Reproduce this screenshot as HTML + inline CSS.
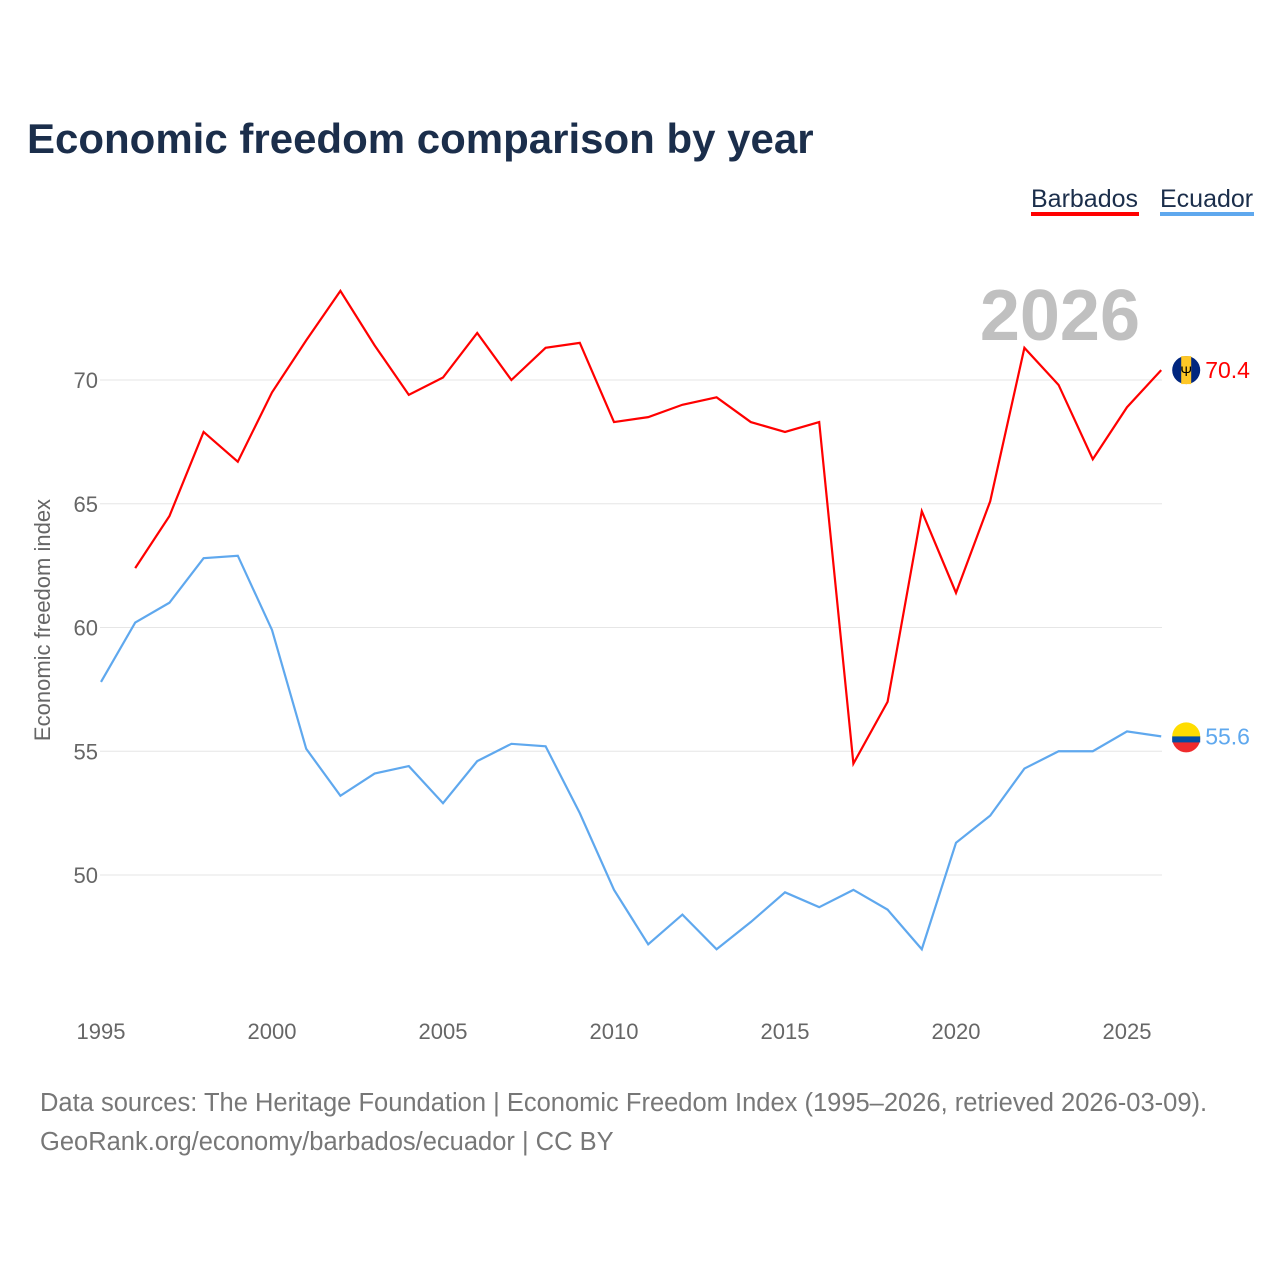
<!DOCTYPE html>
<html><head><meta charset="utf-8"><style>
body{margin:0;background:#fff;font-family:"Liberation Sans",sans-serif;}
</style></head><body>
<svg id="chart" width="1280" height="1280" xmlns="http://www.w3.org/2000/svg" style="font-family:'Liberation Sans',sans-serif">
<rect width="1280" height="1280" fill="#fff"/>
<text x="27" y="153" font-size="42" font-weight="bold" fill="#1b2e4b">Economic freedom comparison by year</text>
<g><text x="1031" y="207" font-size="25" fill="#1b2e4b">Barbados</text><rect x="1031" y="212" width="108" height="4" fill="#ff0000"/></g>
<g><text x="1160" y="207" font-size="25" fill="#1b2e4b">Ecuador</text><rect x="1160" y="212" width="94" height="4" fill="#5fa8ee"/></g>
<text x="1140" y="340" font-size="72" font-weight="bold" fill="#c0c0c0" text-anchor="end">2026</text>
<text transform="translate(50,620) rotate(-90)" font-size="22" fill="#666" text-anchor="middle">Economic freedom index</text>
<g id="grid"></g><g id="xt"></g><g id="lines"></g>
<g font-size="25.5" fill="#777">
<text x="40" y="1111">Data sources: The Heritage Foundation | Economic Freedom Index (1995–2026, retrieved 2026-03-09).</text>
<text x="40" y="1150">GeoRank.org/economy/barbados/ecuador | CC BY</text></g>
</svg>
<script>
const yTicks=[50,55,60,65,70];
const xTicks=[1995,2000,2005,2010,2015,2020,2025];
const barbYears=[1996,1997,1998,1999,2000,2001,2002,2003,2004,2005,2006,2007,2008,2009,2010,2011,2012,2013,2014,2015,2016,2017,2018,2019,2020,2021,2022,2023,2024,2025,2026];
const barbados=[62.4,64.5,67.9,66.7,69.5,71.6,73.6,71.4,69.4,70.1,71.9,70.0,71.3,71.5,68.3,68.5,69.0,69.3,68.3,67.9,68.3,54.5,57.0,64.7,61.4,65.1,71.3,69.8,66.8,68.9,70.4];
const ecuYears=[1995,1996,1997,1998,1999,2000,2001,2002,2003,2004,2005,2006,2007,2008,2009,2010,2011,2012,2013,2014,2015,2016,2017,2018,2019,2020,2021,2022,2023,2024,2025,2026];
const ecuador=[57.8,60.2,61.0,62.8,62.9,59.9,55.1,53.2,54.1,54.4,52.9,54.6,55.3,55.2,52.5,49.4,47.2,48.4,47.0,48.1,49.3,48.7,49.4,48.6,47.0,51.3,52.4,54.3,55.0,55.0,55.8,55.6];
const NS='http://www.w3.org/2000/svg';
const x=y=>101+(y-1995)*34.2;
const yv=v=>380+(70-v)*24.75;
function mk(t,a,p){const e=document.createElementNS(NS,t);for(const k in a)e.setAttribute(k,a[k]);p.appendChild(e);return e;}
const grid=document.getElementById('grid');
yTicks.forEach(t=>{
 const l=mk('line',{x1:100,x2:1162,y1:yv(t),y2:yv(t),stroke:'#e6e6e6','stroke-width':1},grid);
 
 
 const tx=mk('text',{x:98,y:yv(t)+8,'font-size':22,fill:'#666','text-anchor':'end'},grid);tx.textContent=t;
 
 
});
const xt=document.getElementById('xt');
xTicks.forEach(t=>{
 const tx=mk('text',{x:x(t),y:1039,'font-size':22,fill:'#666','text-anchor':'middle'},xt);tx.textContent=t;
 
 
});
const lines=document.getElementById('lines');
function series(ys,vs,col,name,label,flag){
 const p=mk('polyline',{points:ys.map((y,i)=>x(y)+','+yv(vs[i])).join(' '),fill:'none',stroke:col,'stroke-width':2.2},lines);
 
 
 const lx=x(ys[ys.length-1]),ly=yv(vs[vs.length-1]);
 const g=mk('g',{},lines);
 
 
 const cx=lx+25;
 if(flag==='bb'){
  mk('circle',{cx:cx,cy:ly,r:14,fill:'#00267f'},g);
  mk('rect',{x:cx-5,y:ly-14,width:10,height:28,fill:'#ffc726'},g);
  mk('text',{x:cx,y:ly+6,'font-size':14,'text-anchor':'middle',fill:'#000'},g).textContent='Ψ';
 }else{
  mk('circle',{cx:cx,cy:ly,r:14,fill:'#ffdd00'},g);
  mk('path',{d:`M${cx-14},${ly+2} L${cx+14},${ly+2} A14,14 0 0 1 ${cx-14},${ly+2} Z`,fill:'#ef2b2d'},g);
  mk('rect',{x:cx-14,y:ly,width:28,height:6,fill:'#034ea2'},g);
 }
 const t=mk('text',{x:lx+44,y:ly+8,'font-size':23,fill:col},lines);t.textContent=label;
 
 
}
series(barbYears,barbados,'#ff0000','barbados','70.4','bb');
series(ecuYears,ecuador,'#5fa8ee','ecuador','55.6','ec');
</script>
</body></html>
